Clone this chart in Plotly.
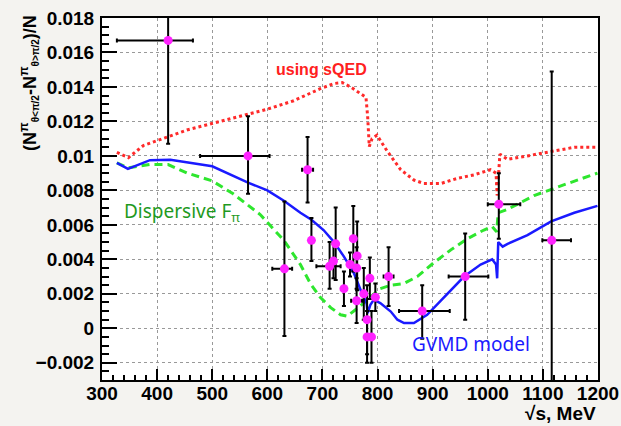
import plotly.graph_objects as go

# ---- data points (energy MeV, asymmetry) ----
pt_E = [420, 565, 673, 631, 680, 713, 720, 724, 739, 750, 756, 763, 762, 762,
        775, 786, 781, 781, 789, 796, 820, 881, 959, 1020, 1116]
pt_V = [0.0167, 0.0100, 0.0092, 0.00345, 0.0051, 0.0036, 0.0039, 0.0049, 0.0023,
        0.0037, 0.0052, 0.0042, 0.0035, 0.0016, 0.0020, 0.0029, 0.0005, -0.0005,
        -0.0005, 0.0018, 0.0030, 0.0010, 0.0030, 0.0072, 0.0051]
pt_exm = [93, 87, 10, 22, 3, 24, 3, 3, 3, 3, 3, 3, 3, 10, 3, 3, 3, 3, 3, 3, 9, 42, 30, 20, 17]
pt_exp = [45, 39, 10, 14, 3, 20, 3, 3, 3, 3, 3, 3, 3, 10, 3, 3, 3, 3, 3, 3, 9, 50, 42, 39, 35]
pt_eym = [0.006, 0.0022, 0.0019, 0.0039, 0.0012, 0.0013, 0.0010, 0.0021, 0.0010,
          0.0007, 0.0019, 0.0020, 0.0012, 0.0013, 0.0015, 0.0012, 0.0020, 0.0015,
          0.0015, 0.0008, 0.0017, 0.0016, 0.0025, 0.0020, 0.0098]
pt_eyp = [0.006, 0.0023, 0.0019, 0.0039, 0.0013, 0.0014, 0.0010, 0.0021, 0.0010,
          0.0007, 0.0019, 0.0020, 0.0012, 0.0013, 0.0015, 0.0012, 0.0020, 0.0015,
          0.0015, 0.0008, 0.0017, 0.0015, 0.0025, 0.0018, 0.0098]

# ---- GVMD model (blue) ----
gvmd_E = [327, 347, 387, 424, 500, 565, 600, 630, 660, 680, 702, 721, 739, 757,
          772, 780, 782, 787, 793, 805, 824, 836, 848, 866, 890, 920, 957, 987,
          1008, 1015, 1017, 1019, 1027, 1036, 1072, 1115, 1157, 1199]
gvmd_V = [0.0096, 0.00925, 0.00975, 0.00977, 0.0094, 0.00845, 0.0080, 0.0074,
          0.0067, 0.0063, 0.0057, 0.0050, 0.00416, 0.0032, 0.0020, 0.00146,
          0.00088, 0.00136, 0.00165, 0.00146, 0.00097, 0.0005, 0.0003, 0.0003,
          0.00078, 0.0018, 0.0030, 0.0037, 0.0040, 0.0037, 0.0029, 0.0050,
          0.00474, 0.0049, 0.0054, 0.0062, 0.0067, 0.0071]

# ---- Dispersive F_pi (green) ----
disp_E = [327, 347, 387, 420, 455, 500, 538, 587, 630, 660, 678, 696, 715, 733,
          745, 756, 769, 781, 793, 805, 824, 848, 872, 902, 933, 963, 993, 1008,
          1016, 1019, 1036, 1084, 1145, 1199]
disp_V = [0.0096, 0.0093, 0.0095, 0.0095, 0.0090, 0.00855, 0.0078, 0.0066,
          0.0051, 0.0037, 0.0026, 0.0018, 0.0012, 0.00078, 0.0007, 0.00097,
          0.0013, 0.00165, 0.0020, 0.0023, 0.0025, 0.0026, 0.0030, 0.0038,
          0.00455, 0.0052, 0.0057, 0.0059, 0.0056, 0.0067, 0.0069, 0.0077,
          0.0084, 0.0090]

# ---- sQED (red) ----
sqed_E = [327, 348, 375, 418, 454, 502, 551, 599, 648, 696, 721, 736, 751, 769,
          779, 782, 785, 790, 799, 817, 842, 866, 884, 915, 945, 975, 1005, 1015,
          1017, 1022, 1036, 1072, 1108, 1157, 1199]
sqed_V = [0.0102, 0.0099, 0.0106, 0.0111, 0.0115, 0.0119, 0.0123, 0.0127,
          0.0132, 0.0139, 0.0142, 0.01425, 0.0140, 0.0136, 0.0134, 0.0123,
          0.01054, 0.0110, 0.0112, 0.0103, 0.0092, 0.0086, 0.0084, 0.0084,
          0.0087, 0.0089, 0.0092, 0.0090, 0.0077, 0.0101, 0.0098, 0.0100,
          0.0102, 0.0105, 0.0105]

x_ticks = [300, 400, 500, 600, 700, 800, 900, 1000, 1100, 1200]
y_ticks = [-0.002, 0, 0.002, 0.004, 0.006, 0.008, 0.01, 0.012, 0.014, 0.016, 0.018]
y_labels = ["\u22120.002", "0", "0.002", "0.004", "0.006", "0.008", "0.01",
            "0.012", "0.014", "0.016", "0.018"]

fig = go.Figure()
fig.add_trace(go.Scatter(x=sqed_E, y=sqed_V, mode="lines",
                         line=dict(color="#ff2a2a", width=3, dash="3px,3px")))
fig.add_trace(go.Scatter(x=disp_E, y=disp_V, mode="lines",
                         line=dict(color="#2ee62e", width=3, dash="8px,5px")))
fig.add_trace(go.Scatter(x=gvmd_E, y=gvmd_V, mode="lines",
                         line=dict(color="#1a1aff", width=2.5)))
fig.add_trace(go.Scatter(
    x=pt_E, y=pt_V, mode="markers",
    marker=dict(color="#ff22ff", size=9),
    error_x=dict(type="data", symmetric=False, array=pt_exp, arrayminus=pt_exm,
                 color="black", thickness=2, width=2),
    error_y=dict(type="data", symmetric=False, array=pt_eyp, arrayminus=pt_eym,
                 color="black", thickness=2, width=2),
))

tickfont = dict(family="Liberation Sans", size=19, color="black")
fig.update_layout(
    width=621, height=426,
    margin=dict(l=102, r=23, t=18, b=46),
    paper_bgcolor="#f4f3f0",
    plot_bgcolor="white",
    showlegend=False,
    font=dict(family="Liberation Sans"),
)
fig.update_xaxes(
    range=[300, 1200], tickvals=x_ticks, ticktext=[f"<b>{t}</b>" for t in x_ticks],
    tickfont=tickfont, ticks="inside", ticklen=11, tickwidth=2, tickcolor="black",
    showline=True, linecolor="black", linewidth=2, mirror=True,
    showgrid=True, gridcolor="#999999", griddash="dot", gridwidth=1,
    minor=dict(dtick=20, ticks="inside", ticklen=5, tickwidth=2, tickcolor="black",
               showgrid=False),
    zeroline=False, automargin=False, ticklabelstandoff=-5,
)
fig.update_yaxes(
    range=[-0.003, 0.018], tickvals=y_ticks, ticktext=[f"<b>{t}</b>" for t in y_labels],
    tickfont=tickfont, ticks="inside", ticklen=15, tickwidth=2, tickcolor="black",
    showline=True, linecolor="black", linewidth=2, mirror=True,
    showgrid=True, gridcolor="#999999", griddash="dot", gridwidth=1,
    minor=dict(dtick=0.0005, ticks="inside", ticklen=7, tickwidth=2, tickcolor="black",
               showgrid=False),
    zeroline=False, ticklabelstandoff=2, automargin=False,
)

fig.add_annotation(x=698, y=0.0150, xref="x", yref="y", showarrow=False,
                   xanchor="center", yanchor="middle",
                   text="<b>using sQED</b>", font=dict(color="#ff2020", size=16))
fig.add_annotation(x=336, y=0.00675, xref="x", yref="y", showarrow=False,
                   xanchor="left", yanchor="middle",
                   text="Dispersive F<sub>\u03c0</sub>",
                   font=dict(color="#1f9a1f", size=19, family="Noto Sans"))
fig.add_annotation(x=858, y=-0.0009, xref="x", yref="y", showarrow=False,
                   xanchor="left", yanchor="middle",
                   text="GVMD model",
                   font=dict(color="#1a1aff", size=19, family="Noto Sans"))
fig.add_annotation(x=1.0, y=-0.093, xref="paper", yref="paper", showarrow=False,
                   xanchor="right", yanchor="middle",
                   text="<b>\u221as, MeV</b>", font=dict(color="black", size=19))
sub1 = "<span style='font-size:10px'>\u03b8<\u03c0/2</span>"
sub2 = "<span style='font-size:10px'>\u03b8>\u03c0/2</span>"
ytitle = ("<b>(N<sup>\u03c0</sup><sub>" + sub1 + "</sub>-N<sup>\u03c0</sup><sub>"
          + sub2 + "</sub>)/N</b>")
fig.add_annotation(x=-0.147, y=1.014, xref="paper", yref="paper", showarrow=False,
                   xanchor="center", yanchor="top", textangle=-90,
                   text=ytitle, font=dict(color="black", size=18))

fig.write_html("out.html", config={"displayModeBar": False},
               post_script="document.body.style.margin='0';document.body.style.overflow='hidden';")
